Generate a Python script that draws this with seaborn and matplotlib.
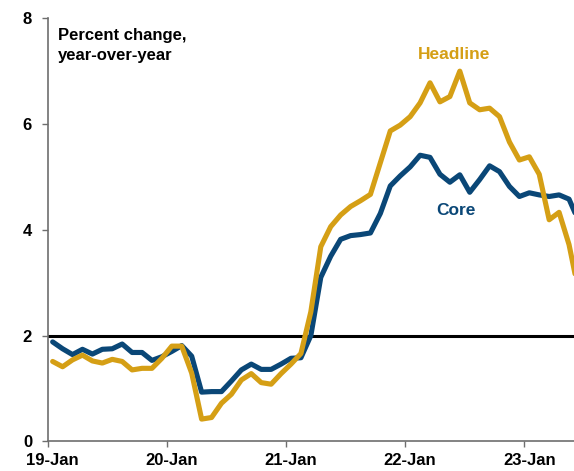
import numpy as np
import pandas as pd
import matplotlib
matplotlib.use("Agg")
import matplotlib.pyplot as plt
import seaborn as sns

# Monthly data, Jan 2019 - Jun 2023 (percent change, year-over-year)
months = pd.date_range("2019-01-01", periods=54, freq="MS")
headline = [1.51, 1.41, 1.54, 1.63, 1.52, 1.48, 1.55, 1.51, 1.35, 1.38, 1.38, 1.57,
            1.80, 1.80, 1.29, 0.42, 0.45, 0.72, 0.89, 1.16, 1.28, 1.11, 1.08, 1.28,
            1.46, 1.66, 2.45, 3.68, 4.06, 4.28, 4.44, 4.55, 4.67, 5.27, 5.87, 5.98,
            6.14, 6.40, 6.78, 6.42, 6.52, 7.00, 6.40, 6.27, 6.30, 6.14, 5.66, 5.32,
            5.38, 5.05, 4.19, 4.33, 3.72, 2.80]
core = [1.88, 1.75, 1.64, 1.74, 1.65, 1.74, 1.75, 1.84, 1.68, 1.68, 1.53, 1.60,
        1.70, 1.81, 1.61, 0.93, 0.94, 0.94, 1.14, 1.35, 1.46, 1.36, 1.36, 1.46,
        1.57, 1.58, 2.00, 3.10, 3.50, 3.82, 3.89, 3.91, 3.94, 4.31, 4.83, 5.02,
        5.19, 5.41, 5.37, 5.05, 4.90, 5.04, 4.71, 4.95, 5.21, 5.10, 4.82, 4.63,
        4.70, 4.66, 4.63, 4.66, 4.58, 4.15]
tick_labels = ["19-Jan", "20-Jan", "21-Jan", "22-Jan", "23-Jan"]
target = 2
series_names = ["Core", "Headline"]
colors = {"Headline": "#D59F15", "Core": "#0A4777"}

sns.set_theme(style="white")
plt.rcParams["font.family"] = ["Liberation Sans", "DejaVu Sans"]
plt.rcParams["font.weight"] = "bold"

pos = np.arange(len(months)) + 0.5
df = pd.concat([
    pd.DataFrame({"pos": pos, "value": core, "series": "Core"}),
    pd.DataFrame({"pos": pos, "value": headline, "series": "Headline"}),
])

fig = plt.figure(figsize=(5.74, 4.71), dpi=100)
ax = fig.add_axes([47.7 / 574, 29.7 / 471, (574 - 47.7) / 574, 423 / 471])

ax.axhline(target, color="black", lw=2.2, zorder=1)
sns.lineplot(data=df, x="pos", y="value", hue="series", hue_order=series_names,
             palette=colors, lw=3.7, legend=False, ax=ax, zorder=3)

ax.set_xlim(0, 53)
ax.set_ylim(0, 8)
ax.set_xlabel("")
ax.set_ylabel("")

major = [0, 12, 24, 36, 48]
ax.set_xticks(major)
ax.set_xticklabels([])
ax.set_xticks([m + 0.5 for m in major], minor=True)
ax.set_xticklabels(tick_labels, minor=True)
ax.set_yticks([0, 2, 4, 6, 8])
ax.set_yticklabels(["0", "2", "4", "6", "8"])

for s in ["top", "right"]:
    ax.spines[s].set_visible(False)
for s in ["left", "bottom"]:
    ax.spines[s].set_color("#6e6e6e")
    ax.spines[s].set_linewidth(1.2)

ax.tick_params(axis="x", which="major", bottom=True, length=4.3, width=1,
               color="#6e6e6e", direction="out")
ax.tick_params(axis="x", which="minor", bottom=True, length=0, pad=8.5,
               labelsize=12, labelcolor="black")
ax.tick_params(axis="y", which="major", left=True, length=4.3, width=1,
               color="#6e6e6e", direction="out", pad=7, labelsize=12,
               labelcolor="black")
for lab in ax.get_xticklabels(minor=True) + ax.get_yticklabels():
    lab.set_fontweight("bold")

ax.text(1.04, 7.59, "Percent change,", fontsize=12, fontweight="bold",
        ha="left", va="baseline", color="black")
ax.text(1.04, 7.21, "year-over-year", fontsize=12, fontweight="bold",
        ha="left", va="baseline", color="black")
ax.text(40.97, 7.23, "Headline", fontsize=12.5, fontweight="bold",
        ha="center", va="baseline", color=colors["Headline"])
ax.text(41.1, 4.28, "Core", fontsize=12.5, fontweight="bold",
        ha="center", va="baseline", color=colors["Core"])

fig.savefig("out.png", dpi=100)
